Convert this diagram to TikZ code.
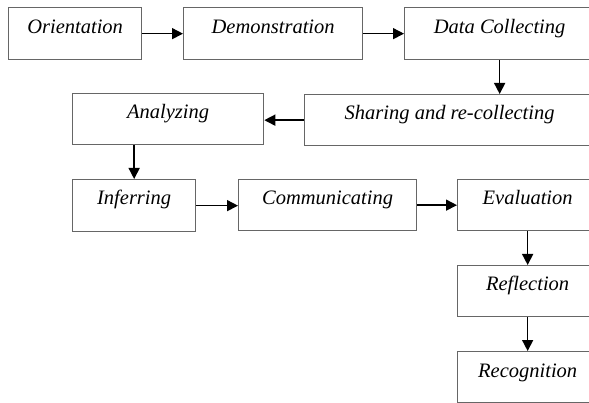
\documentclass[tikz,border=0pt]{standalone}
\usepackage{fontspec}
\setmainfont{Liberation Serif}
\usetikzlibrary{arrows.meta,calc}
\definecolor{boxgray}{rgb}{0.40,0.40,0.40}
\begin{document}
\begin{tikzpicture}[x=1pt,y=-1pt,
  box/.style={draw=boxgray, line width=1.3pt, rectangle, inner sep=0pt, anchor=north west},
  lbl/.style={anchor=base, font=\fontsize{20.5}{24}\selectfont\itshape, inner sep=0pt},
  arr/.style={-{Triangle[length=11pt,width=11pt]}, line width=1.5pt}]
\useasboundingbox (0,0) rectangle (589,403);
\clip (0,0) rectangle (589,403);
% boxes
\node[box, minimum width=133pt, minimum height=52pt] (orient) at (8,7) {};
\node[box, minimum width=179pt, minimum height=52pt] (demo) at (183,7) {};
\node[box, minimum width=190pt, minimum height=52pt] (data) at (404,7) {};
\node[box, minimum width=290pt, minimum height=51pt] (share) at (304,94) {};
\node[box, minimum width=191pt, minimum height=51pt] (anal) at (72,93) {};
\node[box, minimum width=123pt, minimum height=52pt] (infer) at (72,179) {};
\node[box, minimum width=178pt, minimum height=51pt] (comm) at (238,179) {};
\node[box, minimum width=140pt, minimum height=51pt] (eval) at (457,179) {};
\node[box, minimum width=140pt, minimum height=51pt] (refl) at (457,265) {};
\node[box, minimum width=140pt, minimum height=51pt] (recog) at (457,351) {};
% labels
\node[lbl] (t1) at ($(orient.north)+(0,27)$) {Orientation};
\node[lbl] (t2) at ($(demo.north)+(0,27)$) {Demonstration};
\node[lbl] (t3) at ($(data.north)+(0,27)$) {Data Collecting};
\node[lbl] (t4) at ($(share.north)+(0,26)$) {Sharing and re-collecting};
\node[lbl] (t5) at ($(anal.north)+(0,26)$) {Analyzing};
\node[lbl] (t6) at ($(infer.north)+(0,26)$) {Inferring};
\node[lbl] (t7) at ($(comm.north)+(0,26)$) {Communicating};
\node[lbl] (t8) at ($(eval.north)+(0,26)$) {Evaluation};
\node[lbl] (t9) at ($(refl.north)+(0,26)$) {Reflection};
\node[lbl] (t10) at ($(recog.north)+(0,26)$) {Recognition};
% arrows
\draw[arr] (orient.east) -- (demo.west);
\draw[arr] (demo.east) -- (data.west);
\draw[arr] (data.south) -- (data.south |- share.north);
\draw[arr] (share.west) -- (share.west -| anal.east);
\draw[arr] (infer.north |- anal.south) -- (infer.north);
\draw[arr] (infer.east) -- (infer.east -| comm.west);
\draw[arr] (comm.east) -- (comm.east -| eval.west);
\draw[arr] (eval.south) -- (refl.north);
\draw[arr] (refl.south) -- (recog.north);
\end{tikzpicture}
\end{document}
